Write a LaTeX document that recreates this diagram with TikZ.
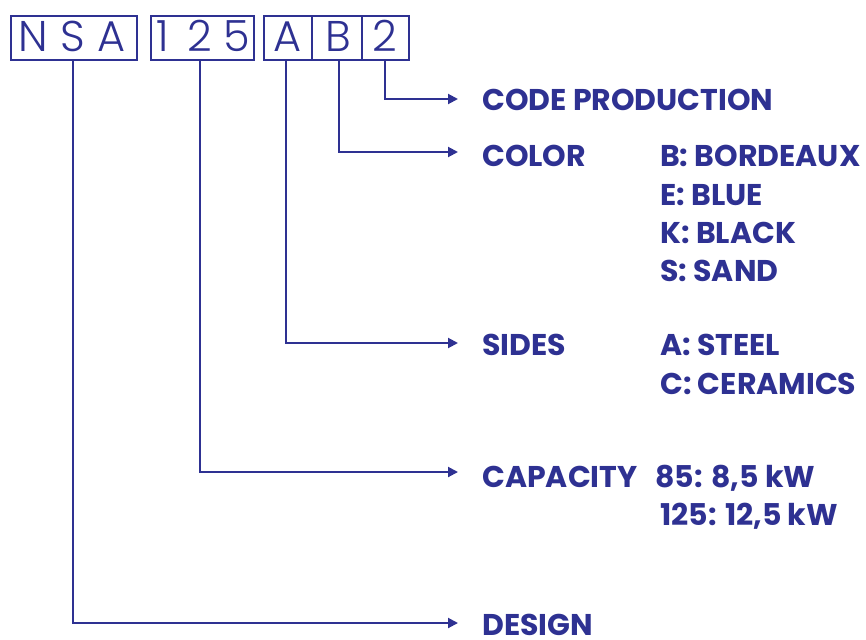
\documentclass[tikz,border=0pt]{standalone}
\usepackage{fontspec}
\setmainfont{Poppins}
\newfontfamily\codefont{Poppins Light}
\usetikzlibrary{arrows.meta}
\definecolor{navy}{RGB}{46,49,146}
\begin{document}
\begin{tikzpicture}[x=1pt,y=-1pt,
  every node/.style={text=navy},
  cell/.style={draw=navy,line width=2pt,minimum height=44pt,inner sep=0pt},
  glyph/.style={font=\codefont\fontsize{43}{43}\selectfont,inner sep=0pt,anchor=base},
  lbl/.style={font=\bfseries\fontsize{30}{30}\selectfont,inner sep=0pt,anchor=base west},
  conn/.style={draw=navy,line width=2pt,-{Triangle[length=10pt,width=10pt]}}]
\useasboundingbox (0,0) rectangle (866,639);
% code boxes
\node[cell,minimum width=126pt] (nsa) at (74,38) {};
\node[cell,minimum width=103pt] (num) at (202.5,38) {};
\node[cell,minimum width=48pt] (cA) at (288,38) {};
\node[cell,minimum width=50pt] (cB) at (337,38) {};
\node[cell,minimum width=47pt] (c2) at (385.5,38) {};
% glyphs
\node[glyph] (gN) at (33,52) {N};
\node[glyph] (gS) at (73,52) {S};
\node[glyph] (gA) at (112,52) {A};
\node[glyph] (g1) at (163,52) {1};
\node[glyph] (g2) at (200,52) {2};
\node[glyph] (g5) at (237,52) {5};
\node[glyph] (gA2) at (288,52) {A};
\node[glyph] (gB) at (338,52) {B};
\node[glyph] (g22) at (385,52) {2};
% labels
\node[lbl] (lCode) at (482,111) {CODE PRODUCTION};
\node[lbl] (lColor) at (482,167) {COLOR};
\node[lbl] (vB) at (660,167) {B: BORDEAUX};
\node[lbl] (vE) at (660,205) {E: BLUE};
\node[lbl] (vK) at (660,243) {K: BLACK};
\node[lbl] (vS) at (660,281) {S: SAND};
\node[lbl] (lSides) at (482,355) {SIDES};
\node[lbl] (vSt) at (660,355) {A: STEEL};
\node[lbl] (vCe) at (660,394) {C: CERAMICS};
\node[lbl] (lCap) at (482,487) {CAPACITY};
\node[lbl] (v85) at (655,487) {85: 8,5 kW};
\node[lbl] (v125) at (660,525) {125: 12,5 kW};
\node[lbl] (lDes) at (482,635) {DESIGN};
% arrow ends
\coordinate (eCode) at (458,99);
\coordinate (eColor) at (458,152);
\coordinate (eSides) at (458,343);
\coordinate (eCap) at (458,472);
\coordinate (eDes) at (458,623);
% connectors
\draw[conn] ([xshift=-0.5pt]c2.south) |- (eCode);
\draw[conn] ([xshift=2pt]cB.south) |- (eColor);
\draw[conn] ([xshift=-2pt]cA.south) |- (eSides);
\draw[conn] ([xshift=-2.5pt]num.south) |- (eCap);
\draw[conn] ([xshift=-1pt]nsa.south) |- (eDes);
\end{tikzpicture}
\end{document}
